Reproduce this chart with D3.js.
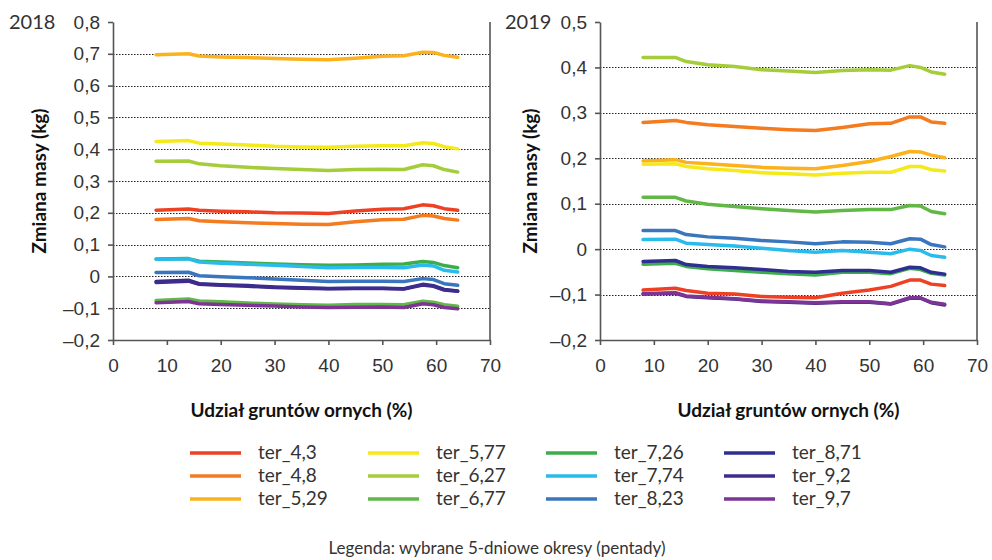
<!DOCTYPE html>
<html lang="pl">
<head>
<meta charset="utf-8">
<script src="https://cdn.jsdelivr.net/npm/d3@7/dist/d3.min.js"></script>
<style>
  html, body { margin: 0; padding: 0; background: #fff; }
  svg { display: block; font-family: Lato, "Noto Sans", sans-serif; }
</style>
</head>
<body>
<svg id="chart" width="992" height="560"></svg>
<script>
// Share of arable land (%) at which each curve is sampled
const landShare = [8, 14, 16, 20, 25, 30, 35, 40, 45, 50, 54, 57.5, 59.5, 61.5, 64];

// Pentad names (legend order) and their colours
const pentads = ["ter_4,3", "ter_4,8", "ter_5,29", "ter_5,77", "ter_6,27", "ter_6,77",
                 "ter_7,26", "ter_7,74", "ter_8,23", "ter_8,71", "ter_9,2", "ter_9,7"];
const pentadColors = ["#ee4123", "#f47b20", "#fbb21d", "#f4e919", "#a5cd39", "#62b846",
                      "#3dad4b", "#29bbec", "#3a76bd", "#2e2f8e", "#3f2b8c", "#7d3595"];

// Mass change (kg), 2018
const values2018 = [
  [0.208, 0.212, 0.208, 0.205, 0.203, 0.200, 0.199, 0.198, 0.206, 0.211, 0.213, 0.225, 0.222, 0.213, 0.208],
  [0.179, 0.182, 0.175, 0.172, 0.169, 0.166, 0.164, 0.163, 0.172, 0.178, 0.180, 0.192, 0.190, 0.182, 0.177],
  [0.697, 0.700, 0.693, 0.690, 0.688, 0.685, 0.683, 0.681, 0.686, 0.692, 0.694, 0.705, 0.704, 0.695, 0.689],
  [0.424, 0.427, 0.419, 0.416, 0.413, 0.409, 0.407, 0.406, 0.409, 0.411, 0.411, 0.420, 0.418, 0.408, 0.401],
  [0.362, 0.363, 0.354, 0.348, 0.343, 0.339, 0.336, 0.333, 0.336, 0.337, 0.336, 0.351, 0.348, 0.336, 0.328],
  [-0.076, -0.071, -0.077, -0.080, -0.084, -0.087, -0.089, -0.091, -0.088, -0.088, -0.089, -0.078, -0.081, -0.089, -0.094],
  [0.055, 0.056, 0.048, 0.045, 0.042, 0.039, 0.037, 0.035, 0.036, 0.038, 0.039, 0.047, 0.044, 0.034, 0.027],
  [0.054, 0.055, 0.045, 0.041, 0.038, 0.035, 0.031, 0.027, 0.028, 0.028, 0.027, 0.036, 0.033, 0.019, 0.014],
  [0.012, 0.013, 0.002, -0.001, -0.004, -0.008, -0.012, -0.016, -0.015, -0.015, -0.016, -0.007, -0.010, -0.023, -0.028],
  [-0.016, -0.012, -0.023, -0.026, -0.029, -0.033, -0.036, -0.038, -0.037, -0.037, -0.039, -0.025, -0.029, -0.041, -0.046],
  [-0.019, -0.015, -0.025, -0.028, -0.031, -0.035, -0.037, -0.039, -0.038, -0.038, -0.040, -0.027, -0.031, -0.043, -0.047],
  [-0.083, -0.079, -0.086, -0.088, -0.091, -0.093, -0.096, -0.098, -0.097, -0.096, -0.098, -0.086, -0.089, -0.098, -0.102]
];

// Mass change (kg), 2019
const values2019 = [
  [-0.090, -0.086, -0.091, -0.097, -0.099, -0.104, -0.106, -0.107, -0.097, -0.090, -0.082, -0.068, -0.068, -0.077, -0.080],
  [0.279, 0.283, 0.279, 0.274, 0.270, 0.266, 0.263, 0.261, 0.268, 0.276, 0.277, 0.291, 0.291, 0.280, 0.277],
  [0.194, 0.197, 0.191, 0.188, 0.184, 0.180, 0.178, 0.177, 0.184, 0.193, 0.204, 0.215, 0.214, 0.207, 0.201],
  [0.187, 0.188, 0.182, 0.177, 0.173, 0.168, 0.166, 0.163, 0.167, 0.169, 0.169, 0.182, 0.182, 0.175, 0.172],
  [0.422, 0.422, 0.413, 0.406, 0.402, 0.395, 0.392, 0.389, 0.393, 0.395, 0.394, 0.404, 0.400, 0.390, 0.385],
  [0.114, 0.114, 0.106, 0.099, 0.094, 0.089, 0.085, 0.082, 0.085, 0.087, 0.087, 0.096, 0.095, 0.083, 0.078],
  [-0.033, -0.031, -0.038, -0.043, -0.047, -0.051, -0.054, -0.057, -0.051, -0.051, -0.054, -0.042, -0.045, -0.053, -0.057],
  [0.021, 0.022, 0.013, 0.010, 0.007, 0.002, -0.003, -0.007, -0.003, -0.007, -0.010, 0.000, -0.003, -0.014, -0.018],
  [0.041, 0.041, 0.032, 0.027, 0.024, 0.019, 0.016, 0.012, 0.016, 0.015, 0.012, 0.023, 0.022, 0.010, 0.005],
  [-0.027, -0.025, -0.034, -0.038, -0.041, -0.045, -0.049, -0.051, -0.047, -0.047, -0.051, -0.040, -0.041, -0.051, -0.055],
  [-0.099, -0.097, -0.104, -0.107, -0.110, -0.115, -0.117, -0.119, -0.117, -0.117, -0.121, -0.108, -0.108, -0.118, -0.123],
  [-0.098, -0.096, -0.103, -0.106, -0.109, -0.114, -0.116, -0.118, -0.116, -0.116, -0.120, -0.107, -0.107, -0.117, -0.121]
];

// Axis ticks
const xTicks = [0, 10, 20, 30, 40, 50, 60, 70];
const yTicks2018 = [-0.2, -0.1, 0, 0.1, 0.2, 0.3, 0.4, 0.5, 0.6, 0.7, 0.8];
const yTicks2019 = [-0.2, -0.1, 0, 0.1, 0.2, 0.3, 0.4, 0.5];

const xTitle = "Udział gruntów ornych (%)";
const yTitle = "Zmiana masy (kg)";
const legendNote = "Legenda: wybrane 5-dniowe okresy (pentady)";

const plLocale = d3.formatLocale({ decimal: ",", thousands: " ", grouping: [3], currency: ["", " zł"], minus: "\u2013" });
const fmtY = v => Math.abs(v) < 1e-9 ? "0" : plLocale.format(".1f")(v);

const svg = d3.select("#chart");
const textColor = "#333";
const axisColor = "#555";

function panel(opts) {
  const { left, right, top, bottom, yDomain, yTicks, values, year, yearX, yTitleX } = opts;
  const x = d3.scaleLinear().domain([0, 70]).range([left, right]);
  const y = d3.scaleLinear().domain(yDomain).range([bottom, top]);
  const g = svg.append("g");

  // dotted horizontal gridlines
  g.append("g").selectAll("line")
    .data(yTicks.filter(t => t > yDomain[0] + 1e-9 && t < yDomain[1] - 1e-9))
    .join("line")
    .attr("x1", left).attr("x2", right)
    .attr("y1", d => Math.round(y(d)) + 0.5).attr("y2", d => Math.round(y(d)) + 0.5)
    .attr("stroke", "#222").attr("stroke-width", 1.2).attr("stroke-dasharray", "1.5,1.5");

  // right border
  g.append("line")
    .attr("x1", right).attr("x2", right).attr("y1", top).attr("y2", bottom)
    .attr("stroke", axisColor).attr("stroke-width", 1.6);

  // x axis
  const xa = g.append("g").attr("transform", `translate(0,${bottom})`)
    .call(d3.axisBottom(x).tickValues(xTicks).tickFormat(d3.format("d")).tickSize(5).tickSizeOuter(0).tickPadding(14));
  xa.select(".domain").attr("stroke", axisColor).attr("stroke-width", 1.6);
  xa.selectAll(".tick line").attr("stroke", axisColor).attr("stroke-width", 1.6);
  xa.selectAll("text").attr("fill", textColor).style("font-size", "19px");

  // y axis
  const ya = g.append("g").attr("transform", `translate(${left},0)`)
    .call(d3.axisLeft(y).tickValues(yTicks).tickFormat(fmtY).tickSize(5).tickSizeOuter(0).tickPadding(8));
  ya.select(".domain").attr("stroke", axisColor).attr("stroke-width", 1.6);
  ya.selectAll(".tick line").attr("stroke", axisColor).attr("stroke-width", 1.6);
  ya.selectAll("text").attr("fill", textColor).style("font-size", "19px");

  // series lines
  const line = d3.line().x((d, i) => x(landShare[i])).y(d => y(d));
  g.append("g").selectAll("path")
    .data(values)
    .join("path")
    .attr("d", d => line(d))
    .attr("fill", "none")
    .attr("stroke", (d, i) => pentadColors[i])
    .attr("stroke-width", 3.5)
    .attr("stroke-linejoin", "round")
    .attr("stroke-linecap", "round");

  // titles
  g.append("text").attr("x", (left + right) / 2).attr("y", 417)
    .attr("text-anchor", "middle").attr("fill", "#111")
    .style("font-size", "19px").style("font-weight", "bold").text(xTitle);
  g.append("text")
    .attr("transform", `translate(${yTitleX},${(top + bottom) / 2}) rotate(-90)`)
    .attr("text-anchor", "middle").attr("fill", "#111")
    .style("font-size", "19px").style("font-weight", "bold").text(yTitle);
  g.append("text").attr("x", yearX).attr("y", 29)
    .attr("fill", textColor).style("font-size", "20px").text(year);
}

panel({ left: 113, right: 490, top: 22, bottom: 340, yDomain: [-0.2, 0.8], yTicks: yTicks2018,
        values: values2018, year: "2018", yearX: 9, yTitleX: 46 });
panel({ left: 600, right: 977, top: 22, bottom: 340, yDomain: [-0.2, 0.5], yTicks: yTicks2019,
        values: values2019, year: "2019", yearX: 505, yTitleX: 537 });

// legend: four columns of three entries
const colX = [190, 368, 546, 724];
const rowY = [453, 476, 499];
const lg = svg.append("g");
pentads.forEach((name, i) => {
  const cx = colX[Math.floor(i / 3)];
  const cy = rowY[i % 3];
  lg.append("line").attr("x1", cx).attr("x2", cx + 51).attr("y1", cy).attr("y2", cy)
    .attr("stroke", pentadColors[i]).attr("stroke-width", 3.5);
  lg.append("text").attr("x", cx + 68).attr("y", cy + 6)
    .attr("fill", textColor).style("font-size", "19px").text(name);
});
svg.append("text").attr("x", 497).attr("y", 554).attr("text-anchor", "middle")
  .attr("fill", textColor).style("font-size", "17px").text(legendNote);
</script>
</body>
</html>
